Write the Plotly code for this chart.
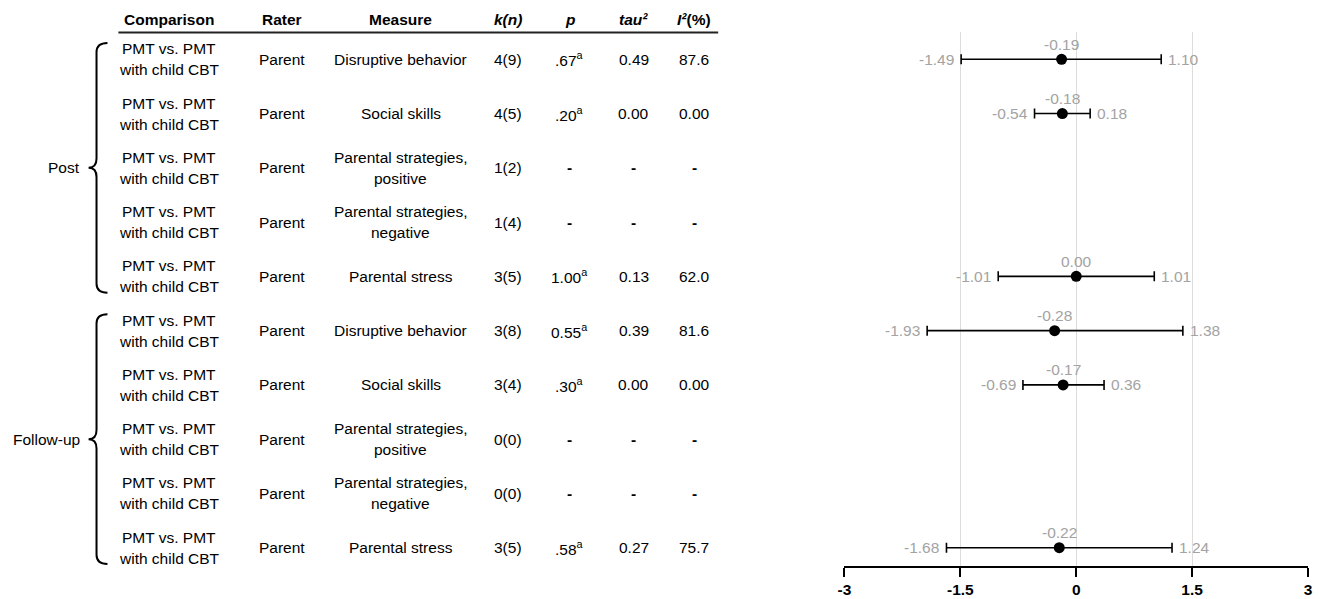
import plotly.graph_objects as go

# ---------------- data ----------------
comparison = ["PMT vs. PMT", "with child CBT"]
rater = ["Parent"] * 10
measures = [
    "Disruptive behavior", "Social skills", "Parental strategies,|positive",
    "Parental strategies,|negative", "Parental stress",
    "Disruptive behavior", "Social skills", "Parental strategies,|positive",
    "Parental strategies,|negative", "Parental stress",
]
k_n = ["4(9)", "4(5)", "1(2)", "1(4)", "3(5)", "3(8)", "3(4)", "0(0)", "0(0)", "3(5)"]
p_vals = [".67", ".20", None, None, "1.00", "0.55", ".30", None, None, ".58"]
tau2 = ["0.49", "0.00", None, None, "0.13", "0.39", "0.00", None, None, "0.27"]
i2 = ["87.6", "0.00", None, None, "62.0", "81.6", "0.00", None, None, "75.7"]

estimate = [-0.19, -0.18, None, None, 0.00, -0.28, -0.17, None, None, -0.22]
ci_low = [-1.49, -0.54, None, None, -1.01, -1.93, -0.69, None, None, -1.68]
ci_high = [1.10, 0.18, None, None, 1.01, 1.38, 0.36, None, None, 1.24]

groups = [("Post", 0, 4), ("Follow-up", 5, 9)]
x_ticks = [-3, -1.5, 0, 1.5, 3]
x_ticktext = ["<b>-3</b>", "<b>-1.5</b>", "<b>0</b>", "<b>1.5</b>", "<b>3</b>"]
headers = ["<b>Comparison</b>", "<b>Rater</b>", "<b>Measure</b>", "<b><i>k(n)</i></b>",
           "<b><i>p</i></b>", "<b><i>tau²</i></b>", "<b><i>I²</i>(%)</b>"]

# ---------------- layout constants ----------------
W, H = 1320, 599
ML, MR, MT, MB = 0, 12, 32, 33
PW = W - ML - MR
PH = H - MT - MB
FONT = "Liberation Sans, Arial, sans-serif"
GRAY = "#a3a3a3"
FS = 15.5
Y_TOP, Y_BOT = -0.503, 9.337


def px(x):
    return (x - ML) / PW


def py(y):
    return (H - MB - y) / PH


col_x = [163, 276, 396, 504, 566, 630, 691]

rows = list(range(len(measures)))
fig = go.Figure()

# forest plot
vis = [i for i in rows if estimate[i] is not None]
fig.add_trace(go.Scatter(
    x=[estimate[i] for i in vis], y=vis, mode="markers",
    marker=dict(color="black", size=11),
    error_x=dict(type="data", symmetric=False,
                 array=[ci_high[i] - estimate[i] for i in vis],
                 arrayminus=[estimate[i] - ci_low[i] for i in vis],
                 color="black", thickness=1.6, width=5),
    hoverinfo="skip", showlegend=False,
))

ann = []
gf = dict(size=FS, color=GRAY, family=FONT)
for i in vis:
    ann.append(dict(x=estimate[i], y=i, xref="x", yref="y", text=f"{estimate[i]:.2f}",
                    showarrow=False, xanchor="center", yshift=15, font=gf))
    ann.append(dict(x=ci_low[i], y=i, xref="x", yref="y", text=f"{ci_low[i]:.2f}",
                    showarrow=False, xanchor="right", xshift=-5, font=gf))
    ann.append(dict(x=ci_high[i], y=i, xref="x", yref="y", text=f"{ci_high[i]:.2f}",
                    showarrow=False, xanchor="left", xshift=5, font=gf))

tf = dict(size=FS, color="black", family=FONT)

# table headers
for cx, h in zip(col_x, headers):
    ann.append(dict(x=px(cx), y=py(20), xref="paper", yref="paper", text=h,
                    xanchor="center", yanchor="middle", showarrow=False, font=tf))


def cell(cx, i, text, yshift=0):
    return dict(x=px(cx), y=i, xref="paper", yref="y", text=text, xanchor="center",
                yanchor="middle", showarrow=False, yshift=yshift, font=tf)


for i in rows:
    ann.append(cell(col_x[0], i, comparison[0], 10.5))
    ann.append(cell(col_x[0], i, comparison[1], -10.5))
    ann.append(cell(col_x[1], i, rater[i]))
    parts = measures[i].split("|")
    if len(parts) == 2:
        ann.append(cell(col_x[2], i, parts[0], 10.5))
        ann.append(cell(col_x[2], i, parts[1], -10.5))
    else:
        ann.append(cell(col_x[2], i, parts[0]))
    ann.append(cell(col_x[3], i, k_n[i]))
    ann.append(cell(col_x[4], i, f"{p_vals[i]}<sup>a</sup>" if p_vals[i] else "<b>-</b>"))
    ann.append(cell(col_x[5], i, tau2[i] if tau2[i] else "<b>-</b>"))
    ann.append(cell(col_x[6], i, i2[i] if i2[i] else "<b>-</b>"))

# header rule and group braces
shapes = [dict(type="line", xref="paper", yref="paper", x0=px(112), x1=px(715),
               y0=py(32.5), y1=py(32.5), line=dict(color="#222", width=1.8))]


def P(xp, yv):
    return f"{px(xp):.5f},{py(MT + (yv - Y_TOP) / (Y_BOT - Y_TOP) * PH):.5f}"


for name, a, b in groups:
    top = a - 0.3
    bot = b + 0.3
    mid = (a + b) / 2
    d = 0.17
    path = (f"M {P(101, top)} Q {P(90, top)} {P(90, top + d)} "
            f"L {P(90, mid - d)} Q {P(90, mid)} {P(82, mid)} "
            f"Q {P(90, mid)} {P(90, mid + d)} L {P(90, bot - d)} "
            f"Q {P(90, bot)} {P(101, bot)}")
    shapes.append(dict(type="path", xref="paper", yref="paper", path=path,
                       line=dict(color="black", width=2)))
    ann.append(dict(x=px(75), y=mid, xref="paper", yref="y", text=name, xanchor="right",
                    yanchor="middle", showarrow=False, font=tf))

fig.update_layout(
    width=W, height=H, margin=dict(l=ML, r=MR, t=MT, b=MB),
    plot_bgcolor="white", paper_bgcolor="white",
    annotations=ann, shapes=shapes,
    xaxis=dict(domain=[px(842), 1], range=[-3, 3], tickvals=x_ticks, ticktext=x_ticktext,
               showgrid=True, gridcolor="#dcdcdc", gridwidth=1, zeroline=False,
               showline=True, linecolor="black", linewidth=1.5,
               ticks="outside", ticklen=9, tickwidth=1.5, tickcolor="black",
               tickfont=dict(size=FS, color="black", family=FONT),
               fixedrange=True),
    yaxis=dict(range=[Y_BOT, Y_TOP], visible=False, fixedrange=True),
    font=dict(family=FONT),
)

fig.write_html("out.html", config={"displayModeBar": False},
               post_script="document.body.style.margin='0';document.body.style.overflow='hidden';")
